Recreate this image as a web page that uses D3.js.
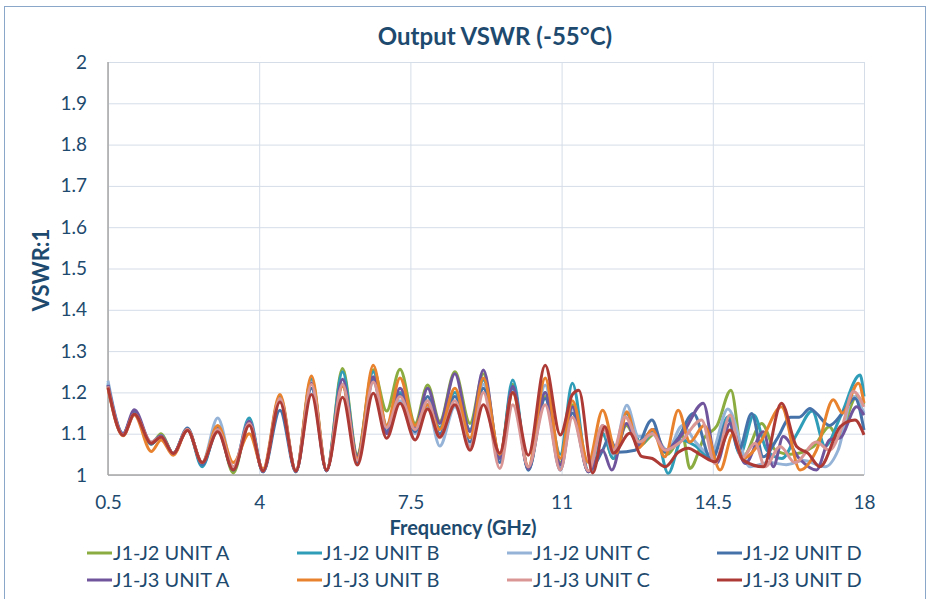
<!DOCTYPE html>
<meta charset="utf-8">
<style>
    body { margin: 0; background: #fff; }
    text { font-family: Lato, "Open Sans", sans-serif; fill: #1d4a6e; }
    .grid line { stroke: #d5dde8; stroke-width: 1; }
    .grid .domain { display: none; }
    .axis .domain { display: none; }
    .axis text { font-size: 19px; font-family: Lato, sans-serif; }
    path.series { fill: none; stroke-width: 3; stroke-linejoin: round; }
</style>
<body>
<script src="https://cdn.jsdelivr.net/npm/d3@7"></script>
<script>
    // knot frequencies shared by all traces below 11.3 GHz (GHz)
    var freqLow = [0.5, 0.85, 1.11, 1.5, 1.73, 2.01, 2.34, 2.68, 3.04, 3.4, 3.77, 4.09, 4.48, 4.85, 5.21, 5.56,
        5.93, 6.27, 6.64, 6.95, 7.26, 7.61, 7.9, 8.18, 8.53, 8.88, 9.19, 9.57, 9.87, 10.23, 10.62, 10.97, 11.25];

    var lowJ2A = [1.215,1.098,1.15,1.075,1.1,1.052,1.11,1.028,1.118,1.005,1.13,1.008,1.185,1.008,1.232,1.01,1.258,1.05,1.255,1.155,1.256,1.125,1.218,1.13,1.25,1.125,1.245,1.045,1.22,1.015,1.19,1.03,1.17];
    var lowJ2B = [1.222,1.1,1.152,1.075,1.095,1.052,1.112,1.02,1.115,1.012,1.138,1.008,1.19,1.008,1.232,1.01,1.25,1.045,1.25,1.12,1.2,1.11,1.17,1.115,1.2,1.11,1.23,1.04,1.23,1.012,1.2,1.05,1.222];
    var lowJ2C = [1.228,1.1,1.15,1.08,1.095,1.052,1.11,1.03,1.138,1.02,1.13,1.01,1.185,1.01,1.225,1.012,1.22,1.04,1.225,1.11,1.18,1.1,1.165,1.07,1.165,1.07,1.22,1.03,1.21,1.015,1.218,1.02,1.16];
    var lowJ2D = [1.218,1.097,1.152,1.075,1.094,1.052,1.114,1.025,1.108,1.012,1.125,1.008,1.157,1.008,1.21,1.01,1.22,1.03,1.232,1.105,1.195,1.105,1.19,1.1,1.19,1.08,1.21,1.03,1.21,1.012,1.185,1.012,1.15];
    var lowJ3A = [1.218,1.1,1.158,1.078,1.095,1.052,1.11,1.03,1.112,1.015,1.13,1.008,1.185,1.008,1.222,1.01,1.232,1.045,1.238,1.1,1.21,1.115,1.21,1.125,1.245,1.105,1.254,1.04,1.215,1.015,1.2,1.025,1.165];
    var lowJ3B = [1.21,1.095,1.145,1.057,1.085,1.048,1.11,1.03,1.12,1.03,1.1,1.015,1.195,1.01,1.24,1.012,1.215,1.04,1.266,1.12,1.235,1.12,1.17,1.11,1.21,1.09,1.235,1.05,1.2,1.02,1.235,1.04,1.18];
    var lowJ3C = [1.215,1.097,1.147,1.08,1.092,1.052,1.11,1.03,1.11,1.02,1.125,1.01,1.185,1.01,1.22,1.012,1.22,1.035,1.225,1.115,1.19,1.11,1.18,1.09,1.18,1.065,1.2,1.016,1.17,1.02,1.17,1.012,1.14];
    var lowJ3D = [1.212,1.096,1.147,1.077,1.092,1.052,1.108,1.03,1.105,1.012,1.12,1.01,1.177,1.01,1.195,1.012,1.188,1.024,1.198,1.089,1.174,1.085,1.16,1.092,1.17,1.06,1.17,1.053,1.2,1.048,1.266,1.097,1.195];

    // above 11.3 GHz the traces drift apart: [GHz, VSWR]
    var highJ2A = [[11.62,1.008],[11.95,1.10],[12.2,1.04],[12.5,1.12],[12.8,1.07],[13.16,1.10],[13.45,1.05],[13.8,1.095],[13.97,1.016],[14.3,1.09],[14.6,1.12],[14.92,1.205],[15.2,1.044],[15.63,1.125],[15.95,1.06],[16.3,1.05],[16.83,1.069],[17.2,1.117],[17.4,1.09],[17.83,1.19],[18,1.17]];
    var highJ2B = [[11.62,1.01],[11.95,1.10],[12.2,1.04],[12.5,1.149],[12.85,1.075],[13.15,1.11],[13.47,1.004],[13.78,1.085],[14.1,1.07],[14.45,1.04],[14.86,1.141],[15.13,1.05],[15.45,1.145],[15.75,1.06],[16.1,1.04],[16.45,1.1],[16.8,1.155],[17.1,1.07],[17.45,1.14],[17.91,1.242],[18,1.19]];
    var highJ2C = [[11.62,1.008],[11.95,1.12],[12.2,1.05],[12.51,1.169],[12.78,1.093],[13.1,1.10],[13.45,1.06],[13.8,1.12],[14.1,1.08],[14.45,1.05],[14.85,1.16],[15.36,1.02],[15.8,1.03],[16.2,1.025],[16.6,1.035],[17.1,1.02],[17.4,1.06],[17.75,1.19],[18,1.15]];
    var highJ2D = [[11.62,1.008],[11.95,1.06],[12.1,1.09],[12.3,1.055],[12.7,1.06],[13.09,1.133],[13.39,1.056],[13.7,1.09],[14.05,1.149],[14.47,1.036],[14.86,1.133],[15.1,1.06],[15.4,1.149],[15.67,1.044],[16.0,1.09],[16.3,1.14],[16.5,1.14],[16.75,1.161],[16.9,1.149],[17.2,1.12],[17.5,1.15],[17.79,1.186],[18,1.109]];
    var highJ3A = [[11.62,1.008],[11.95,1.06],[12.16,1.012],[12.5,1.125],[12.8,1.07],[13.1,1.11],[13.4,1.06],[13.8,1.10],[14.28,1.174],[14.59,1.028],[14.9,1.125],[15.25,1.028],[15.67,1.105],[15.9,1.02],[16.13,1.093],[16.5,1.04],[16.9,1.012],[17.2,1.085],[17.45,1.09],[17.83,1.165],[18,1.145]];
    var highJ3B = [[11.62,1.03],[11.95,1.157],[12.27,1.053],[12.51,1.153],[12.78,1.065],[13.1,1.11],[13.39,1.044],[13.7,1.157],[13.97,1.08],[14.3,1.12],[14.67,1.012],[14.97,1.10],[15.2,1.04],[15.6,1.08],[16.09,1.165],[16.52,1.012],[16.9,1.06],[17.29,1.182],[17.5,1.15],[17.87,1.222],[18,1.174]];
    var highJ3C = [[11.62,1.01],[11.95,1.12],[12.2,1.06],[12.47,1.141],[12.8,1.08],[13.1,1.1],[13.4,1.06],[13.75,1.08],[14.24,1.133],[14.55,1.028],[14.9,1.145],[15.17,1.04],[15.48,1.077],[15.71,1.02],[16.06,1.069],[16.4,1.03],[16.9,1.08],[17.2,1.06],[17.5,1.12],[17.75,1.202],[18,1.165]];
    var highJ3D = [[11.4,1.205],[11.72,1.005],[12.0,1.117],[12.2,1.053],[12.58,1.101],[12.85,1.045],[13.1,1.04],[13.4,1.02],[13.7,1.055],[13.93,1.065],[14.2,1.05],[14.55,1.032],[14.9,1.109],[15.2,1.036],[15.67,1.02],[16.09,1.174],[16.44,1.069],[16.7,1.053],[16.98,1.02],[17.45,1.117],[17.79,1.133],[18,1.097]];

    var names = ["J1-J2 UNIT A", "J1-J2 UNIT B", "J1-J2 UNIT C", "J1-J2 UNIT D",
                 "J1-J3 UNIT A", "J1-J3 UNIT B", "J1-J3 UNIT C", "J1-J3 UNIT D"];
    var colors = ["#8bac40", "#2f9db8", "#95b3d7", "#4672aa", "#70559d", "#e8822e", "#d99694", "#ad3a35"];
    var xTicks = [0.5, 4, 7.5, 11, 14.5, 18];
    var yTicks = [1, 1.1, 1.2, 1.3, 1.4, 1.5, 1.6, 1.7, 1.8, 1.9, 2];

    var lows = [lowJ2A, lowJ2B, lowJ2C, lowJ2D, lowJ3A, lowJ3B, lowJ3C, lowJ3D];
    var highs = [highJ2A, highJ2B, highJ2C, highJ2D, highJ3A, highJ3B, highJ3C, highJ3D];

    var series = names.map(function(n, i) {
        var pts = freqLow.map(function(f, j) { return [f, lows[i][j]]; }).concat(highs[i]);
        return {name: n, color: colors[i], values: pts};
    });

    var W = 930, H = 599;
    var plot = {left: 108, right: 864, top: 62, bottom: 475};

    var svg = d3.select("body").append("svg")
        .attr("width", W)
        .attr("height", H);

    // chart frame
    svg.append("rect")
        .attr("x", 4.5).attr("y", 6.5)
        .attr("width", 921).attr("height", 620)
        .attr("fill", "none")
        .attr("stroke", "#8aa6c8")
        .attr("stroke-width", 1);

    var x = d3.scaleLinear().domain([0.5, 18]).range([plot.left, plot.right]);
    var y = d3.scaleLinear().domain([1, 2]).range([plot.bottom, plot.top]);

    // gridlines
    svg.append("g")
        .attr("class", "grid")
        .attr("transform", "translate(0," + plot.bottom + ")")
        .call(d3.axisBottom(x).tickValues(xTicks).tickSize(-(plot.bottom - plot.top)).tickFormat(""));
    svg.append("g")
        .attr("class", "grid")
        .attr("transform", "translate(" + plot.left + ",0)")
        .call(d3.axisLeft(y).tickValues(yTicks).tickSize(-(plot.right - plot.left)).tickFormat(""));

    // axis lines
    svg.append("line")
        .attr("x1", plot.left).attr("x2", plot.left)
        .attr("y1", plot.top).attr("y2", plot.bottom)
        .attr("stroke", "#a6a6a6").attr("stroke-width", 1.5);
    svg.append("line")
        .attr("x1", plot.left).attr("x2", plot.right)
        .attr("y1", plot.bottom).attr("y2", plot.bottom)
        .attr("stroke", "#a6a6a6").attr("stroke-width", 1.5);

    // tick labels
    svg.append("g")
        .attr("class", "axis")
        .attr("transform", "translate(0," + plot.bottom + ")")
        .call(d3.axisBottom(x).tickValues(xTicks).tickSize(0).tickPadding(21).tickFormat(d3.format("")));
    svg.append("g")
        .attr("class", "axis")
        .attr("transform", "translate(" + plot.left + ",0)")
        .call(d3.axisLeft(y).tickValues(yTicks).tickSize(0).tickPadding(21).tickFormat(d3.format("")));
    svg.selectAll(".axis text").attr("fill", "#1d4a6e");

    var line = d3.line()
        .x(function(d) { return x(d[0]); })
        .y(function(d) { return y(d[1]); })
        .curve(d3.curveMonotoneX);

    svg.append("g").selectAll("path")
        .data(series)
        .enter().append("path")
        .attr("class", "series")
        .attr("stroke", function(d) { return d.color; })
        .attr("d", function(d) { return line(d.values); });

    // titles
    svg.append("text")
        .attr("x", 495).attr("y", 45)
        .attr("text-anchor", "middle")
        .style("font-size", "24px").style("font-weight", "bold")
        .text("Output VSWR (-55°C)");
    svg.append("text")
        .attr("x", 463).attr("y", 535)
        .attr("text-anchor", "middle")
        .style("font-size", "20px").style("font-weight", "bold")
        .text("Frequency (GHz)");
    svg.append("text")
        .attr("transform", "translate(49,270) rotate(-90)")
        .attr("text-anchor", "middle")
        .style("font-size", "22px").style("font-weight", "bold")
        .text("VSWR:1");

    // legend
    var legend = svg.append("g").selectAll("g")
        .data(series)
        .enter().append("g")
        .attr("transform", function(d, i) {
            return "translate(" + (87 + (i % 4) * 210) + "," + (553 + Math.floor(i / 4) * 27) + ")";
        });
    legend.append("line")
        .attr("x1", 0).attr("x2", 25)
        .attr("stroke", function(d) { return d.color; })
        .attr("stroke-width", 3);
    legend.append("text")
        .attr("x", 26).attr("dy", "0.35em")
        .style("font-size", "20px")
        .text(function(d) { return d.name; });
</script>
